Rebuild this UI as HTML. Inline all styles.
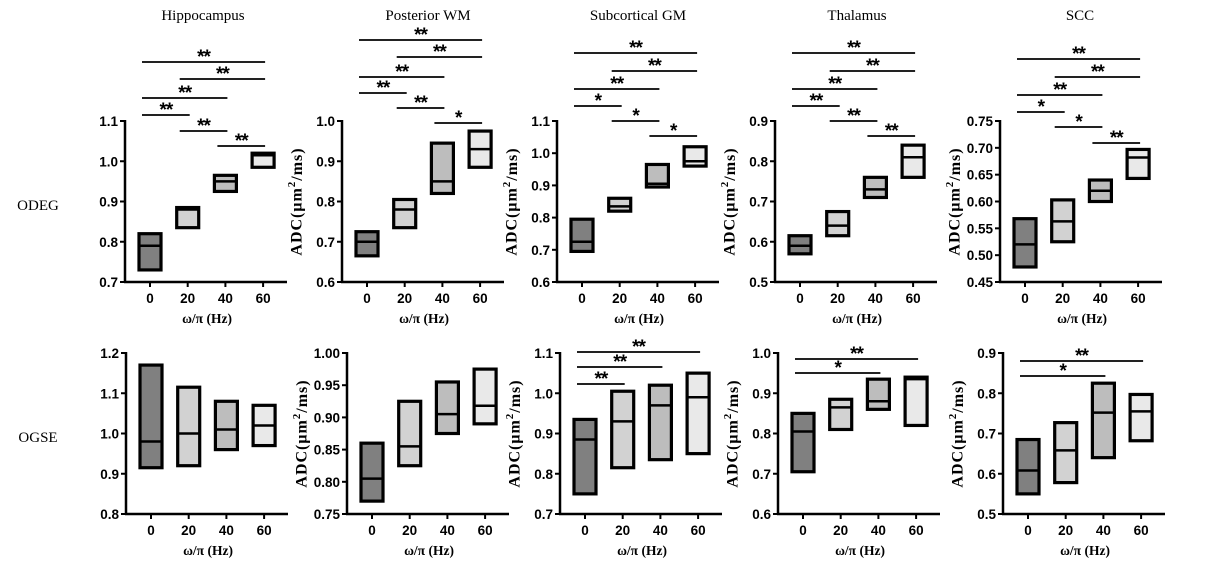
<!DOCTYPE html>
<html><head><meta charset="utf-8"><style>
html,body{margin:0;padding:0;background:#fff;}
svg{display:block;}
</style></head><body>
<svg id="fig" width="1205" height="571" viewBox="0 0 1205 571" xmlns="http://www.w3.org/2000/svg">
<text x="38" y="210" font-family="Liberation Serif, serif" font-size="15" text-anchor="middle">ODEG</text>
<text x="38" y="442" font-family="Liberation Serif, serif" font-size="15" text-anchor="middle">OGSE</text>
</svg>
<script>
const categories = ["0","20","40","60"];
const regions = ["Hippocampus","Posterior WM","Subcortical GM","Thalamus","SCC"];
// each box: [q1, median, q3]
const odegHippocampus = [[0.73,0.79,0.82],[0.835,0.88,0.885],[0.925,0.95,0.965],[0.985,1.015,1.02]];
const odegPosteriorWM = [[0.665,0.70,0.725],[0.735,0.78,0.805],[0.82,0.85,0.945],[0.885,0.93,0.975]];
const odegSubcorticalGM = [[0.695,0.725,0.795],[0.82,0.835,0.86],[0.895,0.905,0.965],[0.96,0.975,1.02]];
const odegThalamus = [[0.57,0.59,0.615],[0.615,0.64,0.675],[0.71,0.73,0.76],[0.76,0.81,0.84]];
const odegSCC = [[0.478,0.52,0.568],[0.525,0.563,0.603],[0.6,0.62,0.64],[0.643,0.682,0.697]];
const ogseHippocampus = [[0.915,0.98,1.17],[0.92,1.0,1.115],[0.96,1.01,1.08],[0.97,1.02,1.07]];
const ogsePosteriorWM = [[0.77,0.805,0.86],[0.825,0.855,0.925],[0.875,0.905,0.955],[0.89,0.918,0.975]];
const ogseSubcorticalGM = [[0.75,0.885,0.935],[0.815,0.93,1.005],[0.835,0.97,1.02],[0.85,0.99,1.05]];
const ogseThalamus = [[0.705,0.805,0.85],[0.81,0.865,0.885],[0.86,0.88,0.935],[0.82,0.935,0.94]];
const ogseSCC = [[0.55,0.608,0.685],[0.578,0.658,0.727],[0.64,0.752,0.825],[0.682,0.755,0.797]];
// y-axis ranges [min, max, step]
const odegRanges = [[0.7,1.1,0.1],[0.6,1.0,0.1],[0.6,1.1,0.1],[0.5,0.9,0.1],[0.45,0.75,0.05]];
const ogseRanges = [[0.8,1.2,0.1],[0.75,1.0,0.05],[0.7,1.1,0.1],[0.6,1.0,0.1],[0.5,0.9,0.1]];
// significance comparisons [from, to, label]
const odegSig = [
 [[0,3,"**"],[1,3,"**"],[0,2,"**"],[0,1,"**"],[1,2,"**"],[2,3,"**"]],
 [[0,3,"**"],[1,3,"**"],[0,2,"**"],[0,1,"**"],[1,2,"**"],[2,3,"*"]],
 [[0,3,"**"],[1,3,"**"],[0,2,"**"],[0,1,"*"],[1,2,"*"],[2,3,"*"]],
 [[0,3,"**"],[1,3,"**"],[0,2,"**"],[0,1,"**"],[1,2,"**"],[2,3,"**"]],
 [[0,3,"**"],[1,3,"**"],[0,2,"**"],[0,1,"*"],[1,2,"*"],[2,3,"**"]]
];
const ogseSig = [[],[],[[0,3,"**"],[0,2,"**"],[0,1,"**"]],[[0,3,"**"],[0,2,"*"]],[[0,3,"**"],[0,2,"*"]]];

const NS="http://www.w3.org/2000/svg";
const svg=document.getElementById('fig');
const fills=["#808080","#d2d2d2","#bdbdbd","#e9e9e9"];
const axTop=[125,342,557,775,1000], axBot=[126,347,560,778,1003];
const odegSigY=[[62,79,98,115,131,146],[40,57,77,93,108,123],[53,71,89,106,121,136],[53,71,89,106,121,136],[59,77,95,112,127,143]];
const ogseSigY=[[],[],[352,367,384],[359,373],[361,376]];
const titleX=[203,428,638,857,1080];
function mk(tag,attrs,parent){const e=document.createElementNS(NS,tag);for(const k in attrs)e.setAttribute(k,attrs[k]);(parent||svg).appendChild(e);return e;}
const odegData=[odegHippocampus,odegPosteriorWM,odegSubcorticalGM,odegThalamus,odegSCC];
const ogseData=[ogseHippocampus,ogsePosteriorWM,ogseSubcorticalGM,ogseThalamus,ogseSCC];

regions.forEach((r,i)=>{
  const t=mk('text',{x:titleX[i],y:20,'font-family':'Liberation Serif, serif','font-size':15,'text-anchor':'middle'});
  
  
  t.textContent=r;
});

function panel(ax,top,bot,range,data,sigs,sigY,showYLabel,name){
  const g=mk('g',{});
  
  
  const [mn,mx,st]=range;
  const y=v=>bot-(v-mn)/(mx-mn)*(bot-top);
  const x=i=>ax+25+i*37.7;
  const decimals=(st<0.1||mn===0.45||mn===0.75)?2:1;
  const n=Math.round((mx-mn)/st);
  for(let k=0;k<=n;k++){
    const v=mn+k*st, yy=y(v);
    const tk=mk('line',{x1:ax-5,x2:ax,y1:yy,y2:yy,stroke:'#000','stroke-width':2},g);
    
    
    const tl=mk('text',{x:ax-7,y:yy+5,'text-anchor':'end','font-family':'Liberation Sans, sans-serif','font-weight':'bold','font-size':13.5},g);
    
    
    tl.textContent=v.toFixed(decimals);
  }
  const ya=mk('line',{x1:ax,x2:ax,y1:top-1,y2:bot+1,stroke:'#000','stroke-width':2.5},g);
  
  
  const xa=mk('line',{x1:ax-1,x2:ax+162,y1:bot,y2:bot,stroke:'#000','stroke-width':2.5},g);
  
  
  categories.forEach((c,i)=>{
    const tk=mk('line',{x1:x(i),x2:x(i),y1:bot,y2:bot+5,stroke:'#000','stroke-width':2},g);
    
    
    const tl=mk('text',{x:x(i),y:bot+21,'text-anchor':'middle','font-family':'Liberation Sans, sans-serif','font-weight':'bold','font-size':13.5},g);
    
    
    tl.textContent=c;
    const d=data[i];
    const b=mk('rect',{x:x(i)-11,y:y(d[2]),width:22,height:y(d[0])-y(d[2]),fill:fills[i],stroke:'#000','stroke-width':3.2},g);
    
    
    const m=mk('line',{x1:x(i)-11,x2:x(i)+11,y1:y(d[1]),y2:y(d[1]),stroke:'#000','stroke-width':2.5},g);
    
    
  });
  const xt=mk('text',{x:ax+82,y:bot+41,'text-anchor':'middle','font-family':'Liberation Serif, serif','font-weight':'bold','font-size':13.5},g);
  
  
  xt.textContent='ω/π (Hz)';
  if(showYLabel){
    const cy=(top+bot)/2;
    const yt=mk('text',{x:ax-44,y:cy,'text-anchor':'middle','font-family':'Liberation Serif, serif','font-weight':'bold','font-size':16,'letter-spacing':'1',transform:`rotate(-90 ${ax-44} ${cy})`,'dominant-baseline':'middle'},g);
    
    
    yt.innerHTML='ADC(μm<tspan dy="-6" font-size="11">2</tspan><tspan dy="6">/ms)</tspan>';
  }
  sigs.forEach((s,k)=>{
    const ly=sigY[k];
    const l=mk('line',{x1:x(s[0])-8,x2:x(s[1])+2,y1:ly,y2:ly,stroke:'#222','stroke-width':2},g);
    
    
    const st2=mk('text',{x:(x(s[0])+x(s[1]))/2-3,y:ly+1,'text-anchor':'middle','font-family':'Liberation Sans, sans-serif','font-weight':'bold','font-size':19,'letter-spacing':'-1'},g);
    
    
    st2.textContent=s[2];
  });
}
regions.forEach((r,i)=>{
  const key=r.toLowerCase().replace(/ /g,'-');
  panel(axTop[i],121,282,odegRanges[i],odegData[i],odegSig[i],odegSigY[i],i>0,'odeg-'+key+'-panel');
  panel(axBot[i],353,514,ogseRanges[i],ogseData[i],ogseSig[i],ogseSigY[i],i>0,'ogse-'+key+'-panel');
});
</script>
</body></html>
